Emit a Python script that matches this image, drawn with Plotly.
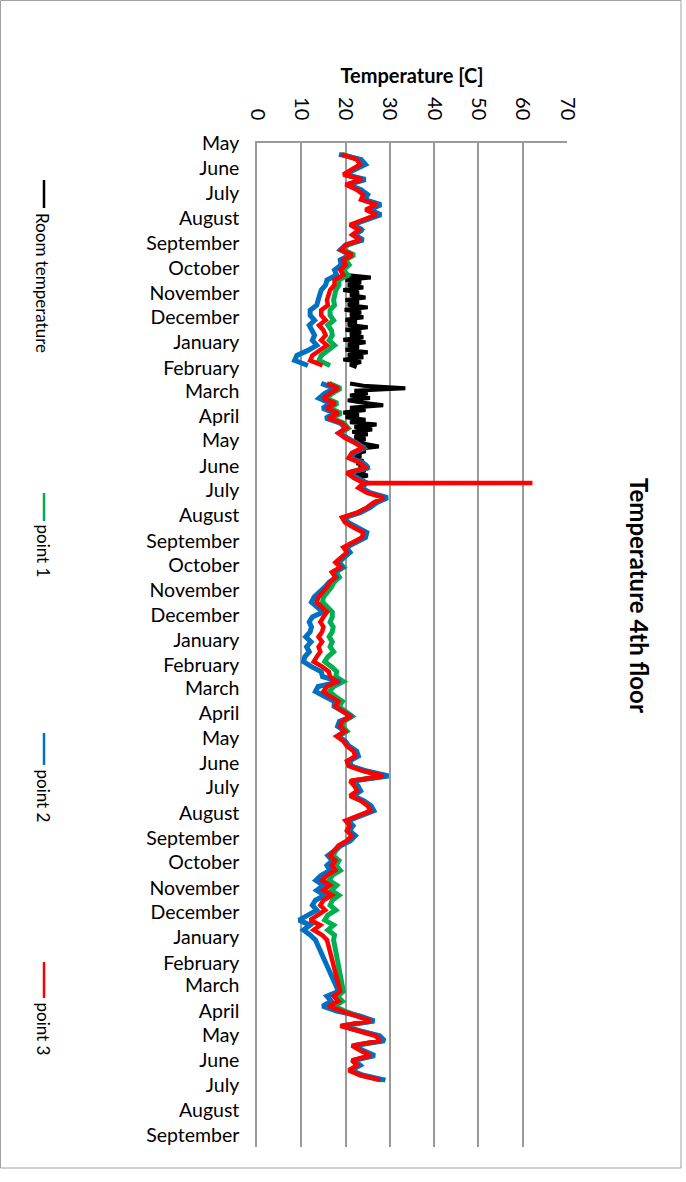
import pandas as pd
import plotly.graph_objects as go

# ------------------------------------------------------------------ data
# period boundaries of the logged segments
segA_start, segA_end = "2012-05-15", "2013-01-29"
segB_start, segB_end = "2013-02-20", "2015-01-04"
segC_start, segC_end = "2015-03-08", "2015-06-25"
roomA_start, roomA_end = "2012-10-10", "2013-01-31"
roomB_start, roomB_end = "2013-02-20", "2013-06-16"
gap_date = "2013-02-10"

# room temperature (black)
room_A = [20.0, 25.7, 20.0, 23.5, 20.5, 24.0, 19.5, 23.0, 21.0, 24.5, 20.0, 23.0, 20.5,
          25.0, 19.8, 23.5, 21.0, 24.0, 20.0, 22.5, 20.5, 25.0, 20.0, 23.5, 21.0, 24.0,
          19.5, 24.5, 20.5, 23.0, 20.0, 25.0, 20.5, 24.0, 19.5, 23.5, 21.0, 22.5]
room_B = [21.0, 24.0, 33.5, 22.0, 25.0, 21.0, 25.5, 20.5, 24.0, 28.5, 21.0, 24.5, 19.5,
          23.0, 20.0, 24.5, 21.0, 27.0, 22.0, 26.0, 21.5, 25.0, 22.0, 24.5, 21.5, 25.0,
          27.5, 23.0, 24.5, 22.0, 23.5, 21.5, 24.0, 22.5, 25.0, 23.0, 24.5, 22.0, 25.0, 23.0]

# point 3 (red)
p3_A = [19.0, 22.5, 23.3, 21.4, 19.5, 23.7, 20.0, 22.5, 24.0, 23.5, 27.0, 24.5, 27.0, 24.0,
        21.0, 23.0, 21.5, 23.3, 20.0, 19.0, 21.5, 19.5, 20.0, 18.8, 19.5, 17.5, 17.5, 16.5,
        16.2, 15.8, 16.0, 14.5, 14.5, 15.5, 14.0, 15.0, 15.5, 14.5, 15.8, 14.0, 12.5, 12.0, 14.8]
p3_B = [15.8, 18.4, 16.5, 15.0, 17.7, 15.8, 18.4, 16.2, 19.2, 20.3, 18.4, 19.9, 22.2, 23.7,
        21.4, 20.7, 23.3, 24.4, 20.3, 21.8, 24.0, 22.9, 24.8, 28.6, 26.3, 24.8, 22.6, 19.2,
        19.9, 21.8, 24.0, 23.7, 21.4, 19.5, 20.3, 18.8, 17.7, 18.8, 16.9, 17.7, 16.5, 15.8,
        14.7, 13.9, 13.5, 14.7, 15.8,
        15.0, 14.3, 15.0, 14.7, 13.9, 14.7, 13.9, 14.3, 13.5, 12.8, 14.7, 16.2, 16.5, 18.0,
        15.8, 15.0, 16.5, 18.4, 17.7, 19.5, 21.0, 19.2, 18.8, 19.9, 18.0, 19.5, 20.3, 21.8,
        22.2, 20.3, 20.7, 24.0, 28.6, 21.0, 22.0, 22.6, 21.0, 23.5, 25.0, 25.6, 22.5, 20.0,
        21.0, 20.3, 21.4, 20.3, 18.4,
        17.3, 16.5, 17.7, 16.9, 17.7, 15.8, 14.7, 16.5, 15.0, 16.9, 15.0, 14.3, 15.4, 13.5,
        12.0, 14.3, 12.8, 14.7, 15.8]
p3_C = [18.8, 17.3, 18.4, 16.2, 19.2, 22.6, 25.6, 18.8, 22.6, 26.7, 27.8, 21.4, 23.3, 25.6,
        21.4, 22.6, 20.7, 23.3, 27.8]
p3_spike_dates = ["2013-06-22 06:00", "2013-06-22 12:00"]
p3_spike_values = [62.2, 24.0]

# point 2 (blue)
p2_A = [18.5, 23.5, 24.5, 22.0, 19.8, 24.5, 20.5, 23.5, 25.0, 24.3, 28.0, 25.5, 28.0, 24.8,
        21.5, 23.8, 22.0, 24.0, 20.0, 18.8, 21.0, 18.8, 19.0, 17.5, 18.0, 15.8, 15.5, 14.5,
        14.0, 13.8, 13.5, 12.0, 12.0, 13.0, 11.8, 12.5, 13.0, 12.5, 13.5, 11.5, 9.0, 8.5, 11.5]
p2_B = [14.5, 17.5, 15.3, 14.0, 16.5, 14.8, 17.5, 15.5, 18.8, 20.0, 18.5, 20.3, 22.6, 24.3,
        21.9, 21.2, 24.0, 25.2, 20.8, 22.5, 24.8, 23.6, 25.5, 29.5, 27.0, 25.5, 23.3, 19.8,
        20.6, 22.5, 24.8, 24.5, 22.2, 20.2, 21.0, 19.5, 18.3, 19.3, 17.3, 17.9, 16.3, 15.3,
        13.9, 12.9, 12.3, 13.6, 14.9,
        12.5, 11.8, 12.3, 12.0, 11.0, 12.2, 11.2, 11.8, 10.8, 10.5, 12.3, 14.5, 14.8, 18.8,
        13.8, 13.2, 15.3, 17.5, 17.4, 19.3, 21.4, 18.6, 18.2, 19.8, 18.2, 19.9, 20.8, 22.5,
        22.9, 20.9, 21.3, 24.8, 29.7, 21.5, 22.8, 23.4, 21.7, 24.2, 25.8, 26.4, 23.2, 20.6,
        21.7, 20.9, 22.2, 21.1, 19.0,
        17.5, 16.0, 17.0, 15.8, 16.5, 14.5, 13.3, 15.0, 13.5, 15.3, 13.2, 12.5, 13.5, 11.5,
        9.5, 12.0, 10.5, 12.0, 13.2]
p2_C = [18.4, 15.8, 16.8, 14.8, 18.0, 23.2, 26.5, 19.3, 23.3, 27.7, 28.8, 22.0, 24.0, 26.6,
        22.0, 23.3, 21.2, 24.0, 29.0]

# point 1 (green)
p1_A = [19.3, 23.0, 23.8, 21.8, 20.0, 24.0, 20.5, 23.0, 24.5, 24.0, 27.5, 25.0, 27.5, 24.5,
        21.5, 23.5, 22.0, 23.8, 20.5, 19.5, 22.0, 20.0, 20.8, 19.5, 20.5, 18.5, 18.5, 17.8,
        17.5, 17.3, 17.5, 16.5, 16.5, 17.3, 16.0, 16.8, 17.0, 16.3, 17.5, 16.0, 14.5, 14.0, 16.5]
p1_B = [16.3, 18.9, 17.0, 15.7, 18.2, 16.5, 19.0, 16.8, 19.6, 20.6, 18.8, 20.2, 22.5, 24.0,
        21.7, 21.0, 23.6, 24.7, 20.6, 22.1, 24.3, 23.2, 25.1, 28.9, 26.6, 25.1, 22.9, 19.6,
        20.3, 22.2, 24.3, 24.0, 21.8, 20.0, 20.9, 19.5, 18.5, 19.6, 17.8, 18.6, 17.4, 16.8,
        15.9, 15.0, 14.8, 15.9, 17.0,
        17.0, 16.5, 17.2, 17.0, 16.3, 17.0, 16.5, 17.3, 16.0, 15.3, 16.8, 18.0, 17.8, 19.5,
        17.3, 16.3, 17.7, 19.3, 18.5, 20.0, 21.5, 19.6, 19.2, 20.3, 18.4, 19.9, 20.7, 22.2,
        22.6, 20.7, 21.1, 24.4, 29.0, 21.4, 22.4, 23.0, 21.4, 23.9, 25.4, 26.0, 22.9, 20.4,
        21.4, 20.7, 21.8, 20.7, 18.8,
        17.8, 17.2, 18.5, 17.8, 18.8, 17.0, 16.3, 18.0, 16.8, 18.5, 17.0, 16.5, 17.8, 16.0,
        15.3, 17.3, 16.0, 17.5, 17.3]
p1_C = [19.5, 18.2, 19.3, 17.5, 19.8, 23.0, 26.0, 19.2, 23.0, 27.2, 28.2, 21.8, 23.7, 26.0,
        21.8, 23.0, 21.0, 23.6, 28.2]

series_names = ["Room temperature", "point 1", "point 2", "point 3"]
series_colors = ["#000000", "#00B050", "#0070C0", "#FF0000"]

temp_ticks = [0, 10, 20, 30, 40, 50, 60, 70]
axis_start, axis_end = "2012-05-01", "2015-09-15"


def seg(values, start, end):
    return pd.Series(values, index=pd.date_range(start, end, periods=len(values)))


gap = pd.Series([None], index=pd.to_datetime([gap_date]), dtype="float")

room = pd.concat([seg(room_A, roomA_start, roomA_end), gap, seg(room_B, roomB_start, roomB_end)])
spike = pd.Series(p3_spike_values, index=pd.to_datetime(p3_spike_dates))
p3 = pd.concat([seg(p3_A, segA_start, segA_end), gap,
                pd.concat([seg(p3_B, segB_start, segB_end), spike]).sort_index(),
                seg(p3_C, segC_start, segC_end)])
p2 = pd.concat([seg(p2_A, segA_start, segA_end), gap, seg(p2_B, segB_start, segB_end),
                seg(p2_C, segC_start, segC_end)])
p1 = pd.concat([seg(p1_A, segA_start, segA_end), gap, seg(p1_B, segB_start, segB_end),
                seg(p1_C, segC_start, segC_end)])

all_series = [room, p1, p2, p3]
line_widths = [4, 5, 5, 4.5]

# ------------------------------------------------------------------ layout geometry
W, H = 686, 1182
L, R, T, B = 257, 119, 143, 35
PW, PH = W - L - R, H - T - B
FONT = "Lato"
GRID = "#9A9A9A"


def fx(px):
    return (px - L) / PW


def fy(py):
    return (T + PH - py) / PH


fig = go.Figure()
for s, name, col, lw in zip(all_series, series_names, series_colors, line_widths):
    fig.add_trace(go.Scatter(
        x=s.values, y=s.index, mode="lines", name=name,
        line=dict(color=col, width=lw), connectgaps=False, showlegend=False))

fig.update_layout(
    width=W, height=H, margin=dict(l=L, r=R, t=T, b=B, autoexpand=False),
    paper_bgcolor="white", plot_bgcolor="white",
    font=dict(family=FONT, color="#000000"),
    xaxis=dict(side="top", range=[0, 70], tickvals=temp_ticks, tickangle=90,
               showgrid=True, gridcolor=GRID, gridwidth=1.5, zeroline=False,
               showline=True, linecolor=GRID, linewidth=1.5,
               ticks="", ticklabelstandoff=14, tickfont=dict(size=20, family=FONT),
               title=dict(text="<b>Temperature [C]</b>", font=dict(size=20, family=FONT),
                          standoff=8)),
    yaxis=dict(type="date", range=[axis_end, axis_start], dtick="M1", tick0=axis_start,
               tickformat="%B", showgrid=False, zeroline=False,
               showline=True, linecolor=GRID, linewidth=1.5, ticks="",
               ticklabelstandoff=12, tickfont=dict(size=19.5, family=FONT)),
)

# title (rotated)
fig.add_annotation(text="<b>Temperature 4th floor</b>", xref="paper", yref="paper",
                   x=fx(640), y=fy(595), textangle=90, showarrow=False,
                   font=dict(size=24, family=FONT), xanchor="center", yanchor="middle")

# rotated legend
legend_items = [(180, 208, 211), (493, 521, 522), (733, 765, 767), (962, 998, 1000)]
for (l0, l1, t0), name, col in zip(legend_items, series_names, series_colors):
    fig.add_shape(type="line", xref="paper", yref="paper", x0=fx(44), x1=fx(44),
                  y0=fy(l0), y1=fy(l1), line=dict(color=col, width=2.5))
    fig.add_annotation(text=name, xref="paper", yref="paper", x=fx(43), y=fy(t0),
                       textangle=90, showarrow=False, font=dict(size=17, family=FONT),
                       xanchor="center", yanchor="top")

# chart border
fig.add_shape(type="rect", xref="paper", yref="paper", x0=fx(0.5), x1=fx(681),
              y0=fy(1168), y1=fy(0.5), line=dict(color="#A0A0A0", width=1), layer="below")

fig.write_html("out.html")
